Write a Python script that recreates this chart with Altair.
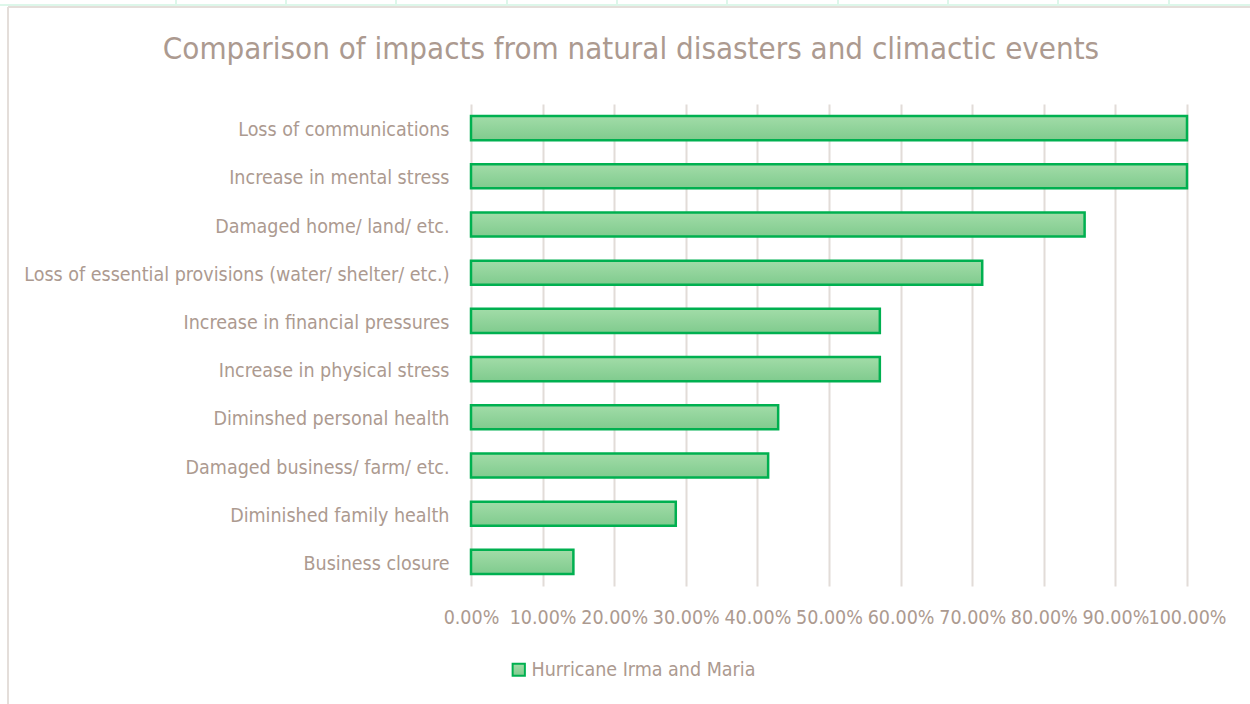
import altair as alt
import pandas as pd

title_text = "Comparison of impacts from natural disasters and climactic events"
categories = [
    "Loss of communications",
    "Increase in mental stress",
    "Damaged home/ land/ etc. ",
    "Loss of essential provisions (water/ shelter/ etc.)",
    "Increase in financial pressures",
    "Increase in physical stress",
    "Diminshed personal health",
    "Damaged business/ farm/ etc. ",
    "Diminished family health",
    "Business closure",
]
values = [1.0, 1.0, 0.857, 0.714, 0.571, 0.571, 0.429, 0.415, 0.286, 0.143]
series = "Hurricane Irma and Maria"

df = pd.DataFrame({"category": categories, "value": values, "series": [series] * len(categories)})

FONT = "DejaVu Sans Condensed"
TXT = "#AC9A90"

grad = alt.Gradient(
    gradient="linear",
    stops=[alt.GradientStop(color="#A2DCA8", offset=0), alt.GradientStop(color="#80CB8E", offset=1)],
    x1=0, x2=0, y1=0, y2=1,
)

bars = alt.Chart(df).mark_bar(fill=grad, stroke="#00B050", strokeWidth=2.5).encode(
    x=alt.X("value:Q",
            scale=alt.Scale(domain=[0, 1], nice=False),
            axis=alt.Axis(format=".2%", values=[i / 10 for i in range(11)], title=None,
                          domain=False, ticks=False, labelPadding=22, gridColor="#E2DCD8",
                          gridWidth=2, labelFontSize=19.5, labelColor=TXT, labelFont=FONT,
                          labelOverlap=False, labelBound=False, labelFlush=False)),
    y=alt.Y("category:N", sort=categories,
            scale=alt.Scale(paddingInner=0.5, paddingOuter=0.25),
            axis=alt.Axis(title=None, domain=False, ticks=False, grid=False, labelPadding=22,
                          labelFontSize=19.5, labelColor=TXT, labelFont=FONT, labelLimit=500,
                          labelOffset=2)),
    stroke=alt.Stroke("series:N", scale=alt.Scale(range=["#00B050"]),
                      legend=alt.Legend(title=None, orient="none", legendX=38, legendY=556,
                                        symbolType="square", symbolSize=150, symbolFillColor="#8FD39B",
                                        symbolStrokeWidth=2, labelFontSize=19.5, labelColor=TXT,
                                        labelFont=FONT, labelOffset=3, labelLimit=500)),
)

one = alt.Data(values=[{}])
title_mark = alt.Chart(one).mark_text(
    text=title_text, font=FONT, fontSize=31, color=TXT, align="center", baseline="middle"
).encode(x=alt.value(631 - 471), y=alt.value(50 - 104))
frame_left = alt.Chart(one).mark_rule(color="#E4DEDA", strokeWidth=2).encode(
    x=alt.value(-463), y=alt.value(-97), y2=alt.value(610))
frame_top = alt.Chart(one).mark_rule(color="#E4DEDA", strokeWidth=2).encode(
    x=alt.value(-463), x2=alt.value(790), y=alt.value(-97))
green_top = alt.Chart(one).mark_rule(color="#DDF7EA", strokeWidth=2).encode(
    x=alt.value(-471), x2=alt.value(790), y=alt.value(-99))
green_v = [
    alt.Chart(one).mark_rule(color="#DDF7EA", strokeWidth=2).encode(
        x=alt.value(px - 471), y=alt.value(-104), y2=alt.value(-99))
    for px in [176, 286, 396, 507, 617, 727, 838, 948, 1058, 1169]
]

chart = alt.layer(green_top, *green_v, frame_left, frame_top, title_mark, bars).properties(
    width=716,
    height=482,
    padding={"left": 471, "top": 104, "right": 63, "bottom": 118},
    autosize=alt.AutoSizeParams(type="none"),
    background="white",
).configure_view(stroke=None)

chart.save("out.html", embed_options={"renderer": "svg", "actions": False})
